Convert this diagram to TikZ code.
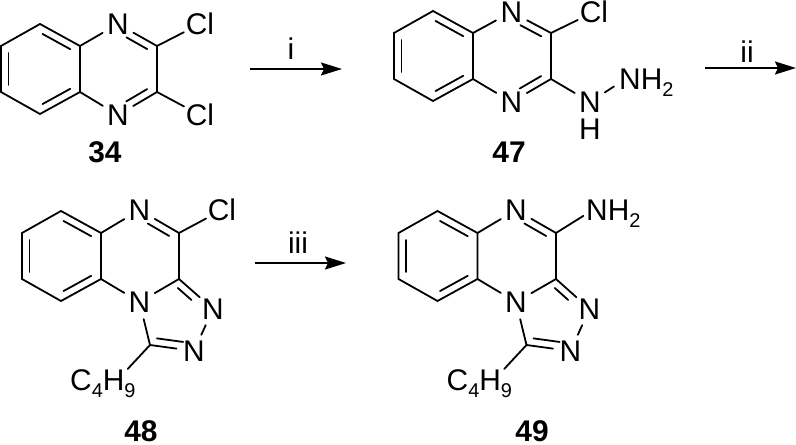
\documentclass[tikz,border=0pt]{standalone}
\usepackage{fontspec}
\setmainfont{Liberation Sans}
\usetikzlibrary{calc,arrows.meta}
\tikzset{
  bond/.style={line width=1.8bp,line cap=round,black},
  atom/.style={circle,inner sep=0pt,minimum size=35bp,font=\fontsize{30}{30}\selectfont},
  group/.style={anchor=base west,inner sep=0pt,font=\fontsize{30}{30}\selectfont},
  cpdlabel/.style={inner sep=0pt,font=\fontsize{30}{30}\selectfont\bfseries},
  condition/.style={inner sep=0pt,font=\fontsize{30}{30}\selectfont},
  reaction/.style={line width=1.8bp,-{Stealth[length=21bp,width=13bp,inset=3bp]}}
}
% inner line of a double bond: from, to, turn angle, shorten at start, shorten at end
\newcommand{\dbl}[5]{\draw[bond,shorten <=#4bp,shorten >=#5bp] ($(#1)!7.5bp!#3:(#2)$) -- ($(#2)!7.5bp!-#3:(#1)$);}
\newcommand{\subs}[1]{\raisebox{-7bp}{\fontsize{20}{20}\selectfont #1}}
% benzo ring; #1 prefix, (#2,#3) the upper ring junction
\newcommand{\benzo}[3]{
  \coordinate (#1a) at (#2,#3);
  \coordinate (#1b) at ($(#2,#3)+(-40,-22)$);
  \coordinate (#1c) at ($(#2,#3)+(-79,0)$);
  \coordinate (#1d) at ($(#2,#3)+(-79,46)$);
  \coordinate (#1e) at ($(#2,#3)+(-40,68)$);
  \coordinate (#1f) at ($(#2,#3)+(0,46)$);
  \draw[bond] (#1a) -- (#1b) -- (#1c) -- (#1d) -- (#1e) -- (#1f) -- cycle;
  \dbl{#1b}{#1a}{-90}{7}{7}
  \dbl{#1d}{#1c}{-90}{7}{7}
  \dbl{#1f}{#1e}{-90}{7}{7}
}
% triazole part shared by 48 and 49; #1 prefix, #2 horizontal shift
\newcommand{\triazolo}[2]{
  \node[atom] (#1n1) at ($(139.5,302)+(#2,0)$) {N};
  \node[atom] (#1n2) at ($(213,309)+(#2,0)$) {N};
  \node[atom] (#1n3) at ($(194,351)+(#2,0)$) {N};
  \coordinate (#1cb) at ($(150,345)+(#2,0)$);
  \node[group] (#1bu) at ($(70,390)+(#2,0)$) {C\subs{4}H\subs{9}};
  \draw[bond] (#1f) -- (#1n1);
  \draw[bond] (#1c2) -- (#1n1);
  \draw[bond] (#1c2) -- (#1n2);
  \dbl{#1c2}{#1n2}{-90}{5}{22}
  \draw[bond] (#1n2) -- (#1n3);
  \draw[bond] (#1n3) -- (#1cb);
  \dbl{#1cb}{#1n3}{90}{6}{12}
  \draw[bond] (#1n1) -- (#1cb);
  \draw[bond] (#1cb) -- ([xshift=-8bp]#1bu.north east);
}
\begin{document}
\begin{tikzpicture}[x=1bp,y=-1bp]
\useasboundingbox (0,0) rectangle (796,445);
% 34
\benzo{p}{80}{46}
\node[atom] (pn1) at (118,24) {N};
\node[atom] (pn2) at (118,115) {N};
\coordinate (pc1) at (157,46);
\coordinate (pc2) at (157,92);
\node[atom] (pcl1) at (200,24) {Cl};
\node[atom] (pcl2) at (200,115) {Cl};
\draw[bond] (pa) -- (pn1);
\draw[bond] (pf) -- (pn2);
\draw[bond] (pn1) -- (pc1) -- (pc2) -- (pn2);
\dbl{pn1}{pc1}{-90}{14}{7}
\dbl{pc2}{pn2}{-90}{7}{14}
\draw[bond] (pc1) -- (pcl1);
\draw[bond] (pc2) -- (pcl2);
\node[cpdlabel] (l34) at (105,152) {34};
% arrow i
\coordinate (a1s) at (250,69);
\coordinate (a1e) at (342,69);
\draw[reaction] (a1s) -- (a1e);
\node[condition] (c1) at (291,49) {i};
% 47
\benzo{q}{473}{33}
\node[atom] (qn1) at (511.5,12) {N};
\node[atom] (qn2) at (511.5,102) {N};
\coordinate (qc1) at (551,33);
\coordinate (qc2) at (551,79);
\node[atom] (qcl) at (594,12) {Cl};
\node[atom] (qnh) at (590,102) {N};
\node[condition] (qh) at (590,129) {H};
\node[group] (qnh2) at (619,90) {NH\subs{2}};
\draw[bond] (qa) -- (qn1);
\draw[bond] (qf) -- (qn2);
\draw[bond] (qn1) -- (qc1) -- (qc2) -- (qn2);
\dbl{qn1}{qc1}{-90}{14}{7}
\dbl{qc2}{qn2}{-90}{7}{14}
\draw[bond] (qc1) -- (qcl);
\draw[bond] (qc2) -- (qnh);
\draw[bond,shorten >=6bp] (qnh) -- (qnh2.west);
\node[cpdlabel] (l47) at (509,152) {47};
% arrow ii
\coordinate (a2s) at (705,68);
\coordinate (a2e) at (796,68);
\draw[reaction] (a2s) -- (a2e);
\node[condition] (c2) at (747,52) {ii};
% 48
\benzo{r}{101}{233}
\node[atom] (rn) at (139.5,210) {N};
\coordinate (rc1) at (179,233);
\coordinate (rc2) at (179,279);
\node[atom] (rcl) at (222,210) {Cl};
\draw[bond] (ra) -- (rn);
\draw[bond] (rn) -- (rc1) -- (rc2);
\dbl{rn}{rc1}{-90}{14}{7}
\draw[bond] (rc1) -- (rcl);
\triazolo{r}{0}
\node[cpdlabel] (l48) at (141,431) {48};
% arrow iii
\coordinate (a3s) at (255,263);
\coordinate (a3e) at (346,263);
\draw[reaction] (a3s) -- (a3e);
\node[condition] (c3) at (298,243) {iii};
% 49
\benzo{s}{477.5}{233}
\node[atom] (sn) at (516,210) {N};
\coordinate (sc1) at (556,233);
\coordinate (sc2) at (556,279);
\node[group] (snh2) at (586,221) {NH\subs{2}};
\draw[bond] (sa) -- (sn);
\draw[bond] (sn) -- (sc1) -- (sc2);
\dbl{sn}{sc1}{-90}{14}{7}
\draw[bond,shorten >=3bp] (sc1) -- (snh2.west);
\triazolo{s}{376.5}
\node[cpdlabel] (l49) at (532,431) {49};
\end{tikzpicture}
\end{document}
